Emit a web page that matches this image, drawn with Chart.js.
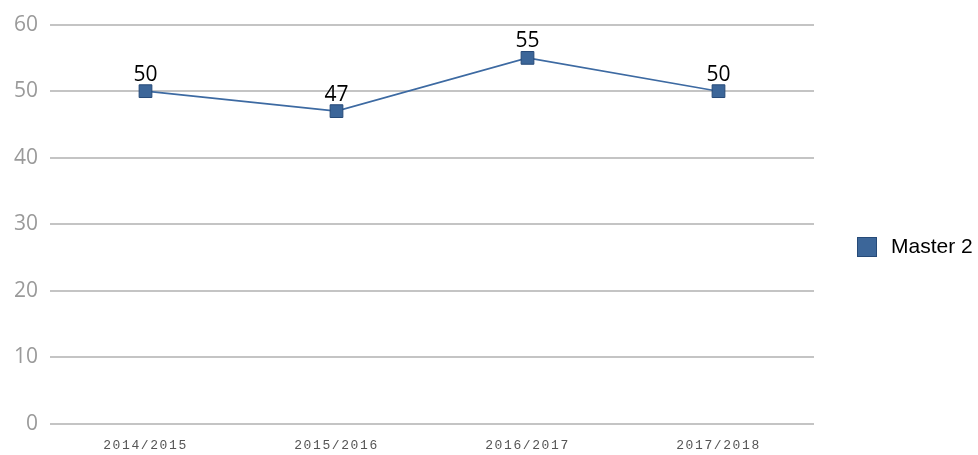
<!DOCTYPE html>
<html><head><meta charset="utf-8">
<script src="https://cdn.jsdelivr.net/npm/chart.js@4"></script>
<style>html,body{margin:0;padding:0;background:#fff}#wrap{width:978px;height:455px}</style>
</head><body><div id="wrap"><canvas id="c" width="978" height="455"></canvas></div>
<script>
const categories = ['2014/2015','2015/2016','2016/2017','2017/2018'];
const seriesName = 'Master 2';
const seriesValues = [50, 47, 55, 50];
const yTicks = [0, 10, 20, 30, 40, 50, 60];

const lineColor = '#3d6aa2';
const markerFill = '#3c6699';
const markerBorder = '#264a78';

const dataLabels = {
  id: 'dataLabels',
  afterDatasetsDraw(chart) {
    const ctx = chart.ctx;
    ctx.save();
    ctx.font = '21px "Open Sans", sans-serif';
    ctx.fillStyle = '#000';
    ctx.textAlign = 'center';
    ctx.textBaseline = 'bottom';
    chart.data.datasets.forEach((ds, i) => {
      chart.getDatasetMeta(i).data.forEach((pt, j) => {
        ctx.fillText(String(ds.data[j]), pt.x, pt.y - 6);
      });
    });
    ctx.restore();
  }
};

const sideLegend = {
  id: 'sideLegend',
  afterDraw(chart) {
    const ctx = chart.ctx;
    const ds = chart.data.datasets[0];
    const x = chart.chartArea.right + 43;
    const y = 247;
    ctx.save();
    ctx.fillStyle = markerFill;
    ctx.strokeStyle = markerBorder;
    ctx.lineWidth = 1;
    ctx.fillRect(x, y - 10, 20, 20);
    ctx.strokeRect(x + 0.5, y - 9.5, 19, 19);
    ctx.fillStyle = '#000';
    ctx.font = '21px "Liberation Sans", Arial, sans-serif';
    ctx.textAlign = 'left';
    ctx.textBaseline = 'middle';
    ctx.fillText(ds.label, x + 34, y);
    ctx.restore();
  }
};

const chart = new Chart(document.getElementById('c'), {
  type: 'line',
  data: {
    labels: categories,
    datasets: [{
      label: seriesName,
      data: seriesValues,
      borderColor: lineColor,
      borderWidth: 1.6,
      backgroundColor: markerFill,
      pointStyle: 'rect',
      pointRadius: 9,
      pointHoverRadius: 9,
      pointBackgroundColor: markerFill,
      pointBorderColor: markerBorder,
      pointBorderWidth: 1,
      tension: 0,
      fill: false
    }]
  },
  options: {
    responsive: false,
    animation: false,
    devicePixelRatio: 1,
    layout: { padding: { top: 24, right: 164, left: 0, bottom: 0 } },
    plugins: { legend: { display: false }, tooltip: { enabled: false } },
    scales: {
      x: {
        offset: true,
        grid: { display: false, drawTicks: false },
        border: { display: false },
        ticks: { color: '#555', font: { family: '"Liberation Mono", "DejaVu Sans Mono", monospace', size: 13 }, padding: 14, maxRotation: 0 },
        afterFit(s) { s.height = 31; }
      },
      y: {
        min: yTicks[0],
        max: yTicks[yTicks.length - 1],
        afterBuildTicks(s) { s.ticks = yTicks.map(v => ({ value: v })); },
        grid: { color: '#c4c4c4', lineWidth: 2, drawTicks: false },
        border: { display: false },
        ticks: { color: '#9a9a9a', font: { family: '"Open Sans", sans-serif', size: 21 }, padding: 12 },
        afterFit(s) { s.width = 50; }
      }
    }
  },
  plugins: [dataLabels, sideLegend]
});

// wider letter spacing for the category labels
const xs = chart.scales.x;
const origDrawLabels = xs.drawLabels.bind(xs);
xs.drawLabels = function (area) {
  const ctx = this.ctx;
  ctx.save();
  ctx.letterSpacing = '1.6px';
  origDrawLabels(area);
  ctx.restore();
};
chart.draw();
</script>
</body></html>
